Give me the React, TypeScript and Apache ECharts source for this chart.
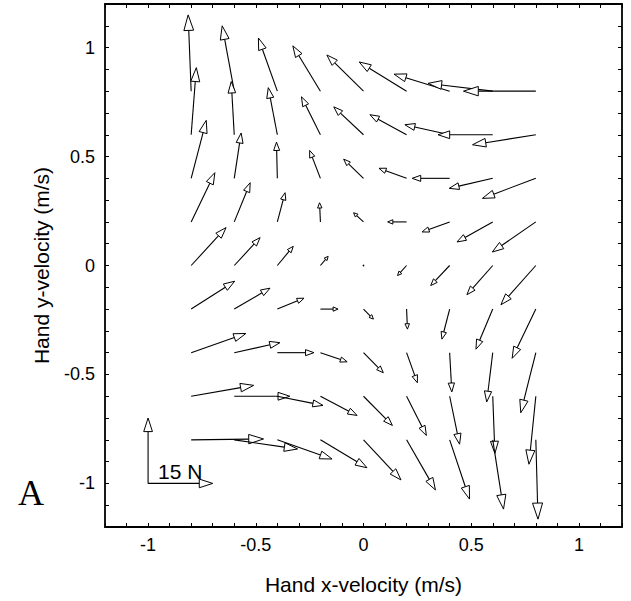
import React, { useEffect, useRef } from "react";
import * as echarts from "echarts";

// Grid of hand velocities (m/s)
const X_GRID = [-0.8, -0.6, -0.4, -0.2, 0, 0.2, 0.4, 0.6, 0.8];
const Y_GRID = [0.8, 0.6, 0.4, 0.2, 0, -0.2, -0.4, -0.6, -0.8];

// Force x-components (N), one row per Y_GRID value
const FX = [
  [-0.7, -2.8, -4.4, -6.4, -8.5, -11.0, -12.9, -15.0, -16.8],
  [1.2, -0.7, -2.1, -4.4, -6.9, -8.5, -10.4, -12.7, -14.7],
  [3.5, 1.6, -0.2, -2.5, -4.6, -6.4, -8.7, -10.1, -12.4],
  [5.5, 3.7, 1.8, -0.2, -2.3, -4.4, -6.4, -8.3, -10.1],
  [8.1, 6.0, 3.7, 1.8, 0, -2.1, -4.4, -6.0, -8.1],
  [10.1, 8.3, 6.2, 4.1, 2.3, 0.2, -1.8, -3.9, -5.5],
  [12.7, 10.6, 8.5, 6.2, 4.6, 2.5, 0.5, -1.4, -3.5],
  [14.5, 12.9, 10.6, 8.5, 6.7, 4.6, 2.3, 0.5, -1.6],
  [16.8, 14.7, 12.7, 10.8, 8.7, 6.7, 4.6, 2.5, 0.5],
];

// Force y-components (N), one row per Y_GRID value
const FY = [
  [17.5, 15.0, 12.2, 10.4, 8.3, 6.7, 3.9, 1.8, 0],
  [15.4, 12.2, 10.8, 8.7, 6.4, 4.6, 2.3, 0, -2.3],
  [13.3, 10.4, 8.3, 6.4, 4.4, 2.3, 0, -2.3, -4.6],
  [11.3, 9.0, 6.7, 4.4, 2.1, 0, -2.3, -4.6, -6.9],
  [8.7, 6.4, 4.4, 2.1, 0, -2.3, -4.6, -6.7, -9.0],
  [6.4, 4.8, 2.5, 0, -2.3, -4.6, -6.9, -9.2, -11.3],
  [4.4, 2.3, 0, -2.1, -4.6, -6.9, -9.0, -11.3, -13.8],
  [2.5, 0, -2.1, -4.4, -6.7, -9.0, -11.0, -13.1, -15.6],
  [0.2, -2.1, -4.4, -6.4, -9.2, -11.5, -13.6, -15.9, -18.2],
];

// Scale bar: 15 N arrows drawn at (-1, -1)
const SCALE_POS = [-1, -1];
const SCALE_N = 15;
const SCALE_LABEL = "15 N";
const PANEL_LABEL = "A";
const X_NAME = "Hand x-velocity (m/s)";
const Y_NAME = "Hand y-velocity (m/s)";

// data units per newton
const FORCE_SCALE = 0.02;

const FONT = "Liberation Sans, Arial, Helvetica, sans-serif";

function renderArrow(params: any, api: any) {
  const x = api.value(0);
  const y = api.value(1);
  const fx = api.value(2);
  const fy = api.value(3);
  const p0 = api.coord([x, y]);
  const p1 = api.coord([x + fx * FORCE_SCALE, y + fy * FORCE_SCALE]);
  const dx = p1[0] - p0[0];
  const dy = p1[1] - p0[1];
  const L = Math.hypot(dx, dy);
  if (L < 2) {
    return {
      type: "circle",
      shape: { cx: p0[0], cy: p0[1], r: 0.8 },
      style: { fill: "#000" },
    };
  }
  const ux = dx / L;
  const uy = dy / L;
  const hl = 0.18 * L + 1.8;
  const hw = 0.047 * L + 1.3;
  const bx = p1[0] - ux * hl;
  const by = p1[1] - uy * hl;
  const nx = -uy;
  const ny = ux;
  return {
    type: "group",
    children: [
      {
        type: "line",
        shape: { x1: p0[0], y1: p0[1], x2: bx, y2: by },
        style: { stroke: "#000", lineWidth: 1.1 },
      },
      {
        type: "polygon",
        shape: {
          points: [
            [p1[0], p1[1]],
            [bx + nx * hw, by + ny * hw],
            [bx - nx * hw, by - ny * hw],
          ],
        },
        style: { fill: "#fff", stroke: "#000", lineWidth: 1 },
      },
    ],
  };
}

const labelFmt = (v: number) => {
  const d = v * 2;
  if (Math.abs(d - Math.round(d)) < 1e-6) {
    const r = Math.round(d) / 2;
    return String(r === 0 ? 0 : r);
  }
  return "";
};

export default function App() {
  const ref = useRef<HTMLDivElement>(null);
  useEffect(() => {
    if (!ref.current) return;
    const chart = echarts.init(ref.current, undefined, { renderer: "svg" });

    const fieldData: number[][] = [];
    Y_GRID.forEach((yv, i) => {
      X_GRID.forEach((xv, j) => {
        fieldData.push([xv, yv, FX[i][j], FY[i][j]]);
      });
    });
    const scaleData = [
      [SCALE_POS[0], SCALE_POS[1], 0, SCALE_N],
      [SCALE_POS[0], SCALE_POS[1], SCALE_N, 0],
    ];

    const axisLine = { show: true, onZero: false, lineStyle: { color: "#000", width: 1.8 } };
    const tick = { show: true, inside: true, length: 4, lineStyle: { color: "#000", width: 1 } };

    const xBase = {
      type: "value",
      min: -1.2,
      max: 1.2,
      interval: 0.1,
      axisLine,
      axisTick: tick,
      splitLine: { show: false },
    };
    const yBase = {
      type: "value",
      min: -1.2,
      max: 1.2,
      interval: 0.1,
      axisLine,
      axisTick: tick,
      splitLine: { show: false },
    };

    chart.setOption({
      animation: false,
      backgroundColor: "#fff",
      grid: { left: 105, top: 4, width: 517, height: 523, containLabel: false },
      xAxis: [
        {
          ...xBase,
          position: "bottom",
          name: X_NAME,
          nameLocation: "middle",
          nameGap: 47,
          nameTextStyle: { color: "#000", fontSize: 21, fontFamily: FONT },
          axisLabel: {
            show: true,
            interval: 0,
            margin: 9,
            color: "#000",
            fontSize: 18,
            fontFamily: FONT,
            formatter: labelFmt,
          },
        },
        { ...xBase, position: "top", axisLabel: { show: false } },
      ],
      yAxis: [
        {
          ...yBase,
          position: "left",
          name: Y_NAME,
          nameLocation: "middle",
          nameGap: 53,
          nameTextStyle: { color: "#000", fontSize: 21, fontFamily: FONT },
          axisLabel: {
            show: true,
            interval: 0,
            margin: 10,
            color: "#000",
            fontSize: 18,
            fontFamily: FONT,
            formatter: labelFmt,
          },
        },
        { ...yBase, position: "right", axisLabel: { show: false } },
      ],
      series: [
        {
          type: "custom",
          name: "force",
          xAxisIndex: 0,
          yAxisIndex: 0,
          renderItem: renderArrow,
          encode: { x: 0, y: 1 },
          data: fieldData,
          clip: false,
        },
        {
          type: "custom",
          name: "scale",
          xAxisIndex: 0,
          yAxisIndex: 0,
          renderItem: renderArrow,
          encode: { x: 0, y: 1 },
          data: scaleData,
          clip: false,
        },
      ],
      graphic: [
        {
          type: "text",
          left: 158,
          top: 461,
          style: { text: SCALE_LABEL, fill: "#000", fontSize: 21, fontFamily: FONT },
        },
        {
          type: "text",
          left: 18,
          top: 475,
          style: {
            text: PANEL_LABEL,
            fill: "#000",
            fontSize: 36,
            fontFamily: "Liberation Serif, Times New Roman, serif",
          },
        },
      ],
    });
    return () => chart.dispose();
  }, []);
  return (
    <div
      ref={ref}
      style={{ position: "fixed", left: 0, top: 0, width: 631, height: 601, background: "#fff" }}
    />
  );
}
